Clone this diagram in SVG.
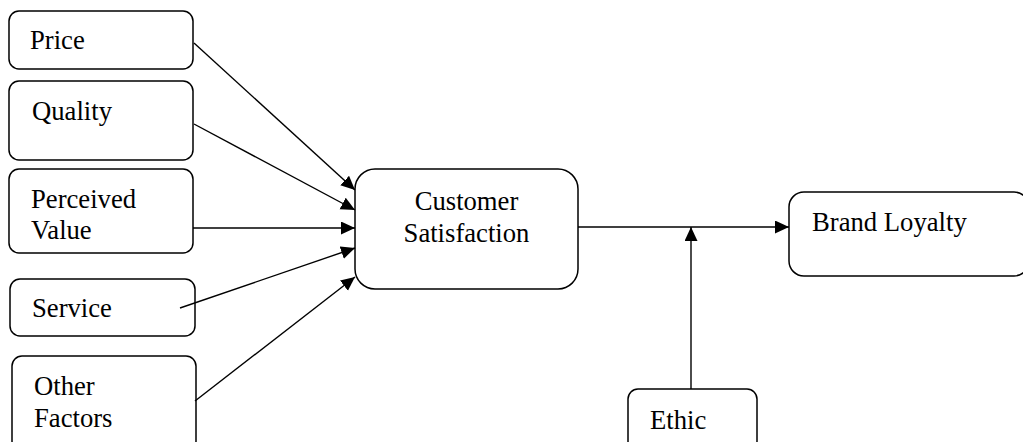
<svg xmlns="http://www.w3.org/2000/svg" width="1023" height="442" viewBox="0 0 1023 442">
<style>
.box{fill:#fff;stroke:#000;stroke-width:1.5}
.t{font-family:"Liberation Serif","Times New Roman",serif;font-size:26.67px;fill:#000}
.c{stroke:#000;stroke-width:1.4;fill:none}
</style>
<defs>
<marker id="ah" markerUnits="userSpaceOnUse" markerWidth="15" markerHeight="14" refX="14" refY="6.5" orient="auto">
<path d="M0,0 L14,6.5 L0,13 z" fill="#000"/>
</marker>
</defs>
<rect width="1023" height="442" fill="#fff"/>
<g id="price"><rect class="box" x="9" y="11" width="184" height="58" rx="10"/><text class="t" x="30" y="49">Price</text></g>
<g id="quality"><rect class="box" x="9" y="81" width="184" height="79" rx="10"/><text class="t" x="32" y="120">Quality</text></g>
<g id="perceived"><rect class="box" x="9" y="169" width="184" height="84" rx="10"/><text class="t" x="31" y="207.5">Perceived</text><text class="t" x="31" y="239">Value</text></g>
<g id="service"><rect class="box" x="10" y="279" width="185" height="57" rx="10"/><text class="t" x="32" y="316.5">Service</text></g>
<g id="other"><rect class="box" x="12" y="356" width="184" height="95" rx="10"/><text class="t" x="34" y="395">Other</text><text class="t" x="34" y="426.5">Factors</text></g>
<g id="satisfaction"><rect class="box" x="355" y="169" width="223" height="120" rx="20"/><text class="t" x="466.5" y="210" text-anchor="middle">Customer</text><text class="t" x="466.5" y="241.5" text-anchor="middle">Satisfaction</text></g>
<g id="loyalty"><rect class="box" x="789" y="192" width="240" height="84" rx="15"/><text class="t" x="812" y="231">Brand Loyalty</text></g>
<g id="ethic"><rect class="box" x="628" y="389" width="129" height="62" rx="10"/><text class="t" x="650" y="429">Ethic</text></g>
<g id="connectors">
<line class="c" x1="194" y1="43" x2="355" y2="190" marker-end="url(#ah)"/>
<line class="c" x1="194" y1="124" x2="355" y2="210" marker-end="url(#ah)"/>
<line class="c" x1="193" y1="228" x2="355" y2="228" marker-end="url(#ah)"/>
<line class="c" x1="180" y1="308" x2="355" y2="248" marker-end="url(#ah)"/>
<line class="c" x1="195" y1="401" x2="355" y2="277" marker-end="url(#ah)"/>
<line class="c" x1="578" y1="227" x2="789" y2="227" marker-end="url(#ah)"/>
<line class="c" x1="691" y1="389" x2="691" y2="227" marker-end="url(#ah)"/>
</g>
</svg>
